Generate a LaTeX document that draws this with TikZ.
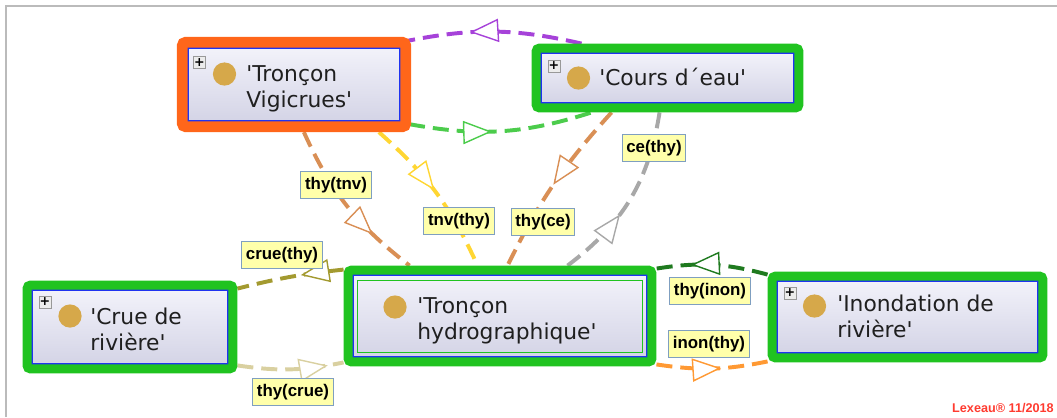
\documentclass[tikz,border=0pt]{standalone}
\usepackage{fontspec}
\setmainfont{DejaVu Sans}
\newfontfamily\lblfont{Liberation Sans}
\usetikzlibrary{arrows.meta,decorations.markings,calc,fit,backgrounds}
\definecolor{framegreen}{HTML}{20C320}
\definecolor{frameorange}{HTML}{FF661A}
\definecolor{clsblue}{HTML}{1F33F0}
\definecolor{clstop}{HTML}{F2F2FA}
\definecolor{clsbot}{HTML}{D4D4E6}
\definecolor{dotgold}{HTML}{D6A84A}
\definecolor{lblfill}{HTML}{FFFFAA}
\definecolor{lblborder}{HTML}{7F9FC0}
\definecolor{cPurple}{HTML}{A642D9}
\definecolor{cLightGreen}{HTML}{4CCC4C}
\definecolor{cBrown}{HTML}{D98F55}
\definecolor{cYellow}{HTML}{FFD633}
\definecolor{cGray}{HTML}{A8A8A8}
\definecolor{cOlive}{HTML}{A39A30}
\definecolor{cTan}{HTML}{D9D0A0}
\definecolor{cDarkGreen}{HTML}{1F7A1F}
\definecolor{cOrange}{HTML}{FF9933}
\definecolor{lexred}{HTML}{FF3B30}
\definecolor{borderGray}{HTML}{BBBBBB}
\newcommand{\apos}{\textquotesingle}

\begin{document}
\begin{tikzpicture}[x=0.025cm, y=-0.025cm,
        cls/.style={draw=clsblue, line width=1pt, top color=clstop, bottom color=clsbot, inner sep=0pt},
        clsframe/.style={draw=#1, line width=6.4pt, rounded corners=2.5pt, inner sep=3pt},
        golddot/.style={circle, fill=dotgold, minimum size=0.58cm, inner sep=0pt},
        plusbox/.style={draw=gray!80, fill=gray!15, minimum size=0.3cm, inner sep=0pt, font=\bfseries\fontsize{9}{9}\selectfont},
        clstext/.style={anchor=west, inner sep=0pt, align=left, text=black!88, font=\fontsize{15.5}{18.4}\selectfont},
        relline/.style={draw=#1, line width=2.8pt, dash pattern=on 0.4cm off 0.2cm},
        midarrow/.style={postaction={decorate}, decoration={markings, mark=at position #1 with {\arrow{Triangle[fill=white, length=0.72cm, width=0.58cm, line width=1pt]}}}},
        lbl/.style={draw=lblborder, fill=lblfill, line width=0.6pt, inner xsep=3pt, inner ysep=4pt, font=\lblfont\bfseries\fontsize{12}{14}\selectfont}]
        \useasboundingbox (0,0) rectangle (1057,417);
        \draw[borderGray, line width=0.05cm] (6,417) -- (6,6) -- (1057,6);

        \node[cls, minimum width=5.3cm, minimum height=1.825cm] (vigi) at (294,84.5) {};
        \node[cls, minimum width=6.325cm, minimum height=1.25cm] (cours) at (667.5,78) {};
        \node[cls, minimum width=4.9cm, minimum height=1.85cm] (crue) at (130,327) {};
        \node[cls, minimum width=7.35cm, minimum height=2.05cm] (hydro) at (500,316) {};
        \node[cls, minimum width=6.525cm, minimum height=1.8cm] (inon) at (907.5,317) {};
        \draw[framegreen, line width=1pt] ($(hydro.north west)+(5,6)$) rectangle ($(hydro.south east)+(-5,-5)$);

        \node[clsframe=frameorange, line width=7.6pt, inner sep=3.6pt, fit=(vigi)] (vigiF) {};
        \node[clsframe=framegreen, fit=(cours)] (coursF) {};
        \node[clsframe=framegreen, fit=(crue)] (crueF) {};
        \node[clsframe=framegreen, fit=(hydro)] (hydroF) {};
        \node[clsframe=framegreen, fit=(inon)] (inonF) {};

        \node[plusbox] (vigiPlus) at (199.5,62.5) {+};
        \node[plusbox] (coursPlus) at (554,66) {+};
        \node[plusbox] (cruePlus) at (45,302) {+};
        \node[plusbox] (inonPlus) at (790,293) {+};

        \node[golddot] (vigiDot) at (224.5,74) {};
        \node[golddot] (coursDot) at (578.5,78) {};
        \node[golddot] (crueDot) at (70,316) {};
        \node[golddot] (hydroDot) at (395,307) {};
        \node[golddot] (inonDot) at (814.5,306) {};

        \node[clstext] (vigiTxt) at (246,88.5) {\apos Tronçon\\Vigicrues\apos};
        \node[clstext] (coursTxt) at (599,77) {\apos Cours d´eau\apos};
        \node[clstext] (crueTxt) at (90,329.5) {\apos Crue de\\rivière\apos};
        \node[clstext] (hydroTxt) at (417,320.5) {\apos Tronçon\\hydrographique\apos};
        \node[clstext] (inonTxt) at (837,316.5) {\apos Inondation de\\rivière\apos};

        \begin{scope}[on background layer]
        \draw[relline=cPurple, midarrow=0.64] ($(coursF.north west)+(50,0)$) to[bend right=12] ($(vigiF.north east)+(-4,4)$);
        \draw[relline=cLightGreen, midarrow=0.45] ($(vigiF.south east)+(-2,-8)$) to[bend right=14] ($(coursF.south west)+(60,0)$);
        \draw[relline=cBrown, midarrow=0.72] ($(vigiF.south west)+(127,0)$) to[bend right=14] ($(hydroF.north west)+(66,0)$);
        \draw[relline=cYellow, midarrow=0.48] ($(vigiF.south west)+(202,0)$) to[bend left=12] ($(hydroF.north west)+(134,0)$);
        \draw[relline=cBrown, midarrow=0.5] ($(coursF.south west)+(80,0)$) to[bend right=8] ($(hydroF.north west)+(164,0)$);
        \draw[relline=cGray, midarrow=0.4] ($(hydroF.north west)+(224,0)$) to[bend right=22] ($(coursF.south west)+(128,0)$);
        \draw[relline=cOlive, midarrow=0.4] ($(hydroF.north west)+(0,4)$) to[bend right=4] ($(crueF.north east)+(0,8)$);
        \draw[relline=cTan, midarrow=0.85] ($(crueF.south east)+(0,-8)$) to[bend right=10] ($(hydroF.south west)+(0,-4)$);
        \draw[relline=cDarkGreen, midarrow=0.69] ($(inonF.north west)+(0,3)$) to[bend right=12] ($(hydroF.north east)+(0,3)$);
        \draw[relline=cOrange, midarrow=0.58] ($(hydroF.south east)+(0,-2)$) to[bend right=10] ($(inonF.south west)+(0,-1)$);
        \end{scope}

        \node[lbl] (lThyTnv) at (336,185) {thy(tnv)};
        \node[lbl] (lTnvThy) at (459,221) {tnv(thy)};
        \node[lbl] (lThyCe) at (543,222) {thy(ce)};
        \node[lbl] (lCeThy) at (654,148) {ce(thy)};
        \node[lbl] (lCrueThy) at (282,255) {crue(thy)};
        \node[lbl] (lThyCrue) at (293,392) {thy(crue)};
        \node[lbl] (lThyInon) at (710,291) {thy(inon)};
        \node[lbl] (lInonThy) at (709,344) {inon(thy)};

        \node[anchor=base east, inner sep=0pt, text=lexred, font=\lblfont\bfseries\fontsize{9}{10}\selectfont] (lexeau) at (1054,412) {Lexeau® 11/2018};
    \end{tikzpicture}
\end{document}
